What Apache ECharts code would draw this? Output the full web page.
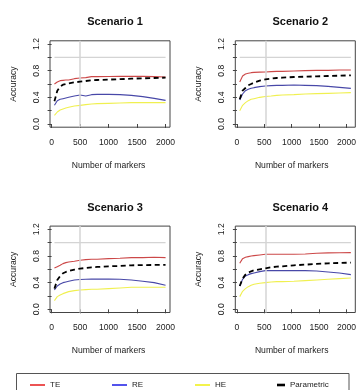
<!DOCTYPE html>
<html>
<head>
<meta charset="utf-8">
<script src="https://cdn.jsdelivr.net/npm/echarts@6/dist/echarts.min.js"></script>
<style>html,body{margin:0;padding:0;background:#fff}#c{width:359px;height:390px}#err{position:absolute;top:0;left:0;font:9px monospace;color:#c00;white-space:pre-wrap;width:359px}</style>
</head>
<body>
<div id="c"></div>
<div id="err"></div>
<script>
// ---- data ----
var markers = [50,100,150,200,250,300,400,500,600,700,800,1000,1200,1400,1600,1800,2000];
var titles = ['Scenario 1','Scenario 2','Scenario 3','Scenario 4'];
var seriesNames = ['TE','RE','HE','Parametric'];
var xTickStep = 500;
var yTickStep = 0.2;

var TE1 = [0.60,0.63,0.65,0.655,0.66,0.66,0.68,0.69,0.695,0.71,0.71,0.712,0.715,0.715,0.715,0.71,0.705];
var RE1 = [0.28,0.35,0.37,0.38,0.39,0.40,0.42,0.435,0.42,0.44,0.445,0.445,0.44,0.43,0.41,0.385,0.355];
var HE1 = [0.13,0.18,0.21,0.225,0.24,0.25,0.27,0.28,0.29,0.30,0.305,0.31,0.315,0.32,0.32,0.32,0.32];
var PA1 = [0.34,0.50,0.56,0.59,0.60,0.61,0.625,0.635,0.645,0.655,0.66,0.666,0.672,0.68,0.685,0.69,0.695];

var TE2 = [0.63,0.72,0.75,0.76,0.77,0.775,0.778,0.78,0.785,0.79,0.79,0.795,0.80,0.805,0.805,0.81,0.81];
var RE2 = [0.36,0.45,0.50,0.52,0.535,0.545,0.56,0.57,0.575,0.58,0.58,0.585,0.58,0.575,0.565,0.55,0.535];
var HE2 = [0.20,0.28,0.32,0.35,0.37,0.38,0.40,0.413,0.42,0.43,0.435,0.44,0.45,0.455,0.46,0.465,0.47];
var PA2 = [0.37,0.50,0.54,0.58,0.60,0.62,0.65,0.67,0.68,0.69,0.695,0.705,0.71,0.715,0.72,0.725,0.73];

var TE3 = [0.62,0.64,0.66,0.685,0.70,0.71,0.72,0.735,0.745,0.75,0.75,0.76,0.765,0.775,0.775,0.78,0.775];
var RE3 = [0.29,0.35,0.38,0.40,0.41,0.42,0.44,0.448,0.45,0.452,0.453,0.455,0.45,0.44,0.42,0.40,0.36];
var HE3 = [0.13,0.19,0.215,0.235,0.25,0.265,0.28,0.29,0.295,0.30,0.30,0.31,0.32,0.33,0.33,0.33,0.33];
var PA3 = [0.31,0.44,0.50,0.54,0.56,0.575,0.595,0.61,0.62,0.63,0.635,0.645,0.65,0.66,0.663,0.665,0.667];

var TE4 = [0.69,0.76,0.78,0.79,0.80,0.805,0.815,0.825,0.826,0.826,0.826,0.826,0.83,0.84,0.846,0.848,0.85];
var RE4 = [0.35,0.45,0.50,0.52,0.535,0.545,0.565,0.58,0.58,0.58,0.58,0.58,0.58,0.575,0.56,0.545,0.52];
var HE4 = [0.19,0.27,0.31,0.34,0.36,0.375,0.39,0.40,0.41,0.415,0.415,0.42,0.43,0.44,0.45,0.46,0.47];
var PA4 = [0.35,0.46,0.52,0.55,0.57,0.585,0.60,0.615,0.63,0.64,0.645,0.66,0.67,0.68,0.69,0.695,0.70];

var refLineX = [50,2000];
var refLineY = [1,1];
var refMarker = 500;

var panels = [[TE1,RE1,HE1,PA1],[TE2,RE2,HE2,PA2],[TE3,RE3,HE3,PA3],[TE4,RE4,HE4,PA4]];

(function(){
try {
var FONT = '"Liberation Sans", Arial, sans-serif';
var TXT = '#222';
var lineColors = ['#cc4848','#4848a8','#f0f050','#000000'];
var legendColors = ['#e82828','#2828e8','#f0f020','#000000'];

function pair(xs, ys){ return xs.map(function(x,i){ return [x, ys[i]]; }); }

var BX0=-28, BX1=2078, BY0=-0.048, BY1=1.248;
var BW=120, BH=86.4;
var grids=[], xAxes=[], yAxes=[], series=[], titleArr=[];
for (var p=0;p<4;p++){
  var col = p%2, row = Math.floor(p/2);
  var gl = 50 + 185.3*col, gt = 40.8 + 185.3*row;
  grids.push({left:gl, top:gt, width:BW, height:BH, show:true, borderColor:'#444', borderWidth:1, backgroundColor:'transparent'});
  xAxes.push({type:'value', gridIndex:2*p, min:BX0, max:BX1, show:false});
  yAxes.push({type:'value', gridIndex:2*p, min:BY0, max:BY1, show:false});
  var il = gl + BW*(0-BX0)/(BX1-BX0);
  var iw = BW*2000/(BX1-BX0);
  var it = gt + BH*(BY1-1.2)/(BY1-BY0);
  var ih = BH*1.2/(BY1-BY0);
  var offX = (gt+BH) - (it+ih);
  var offY = il - gl;
  grids.push({left:il, top:it, width:iw, height:ih, show:false});
  xAxes.push({type:'value', gridIndex:2*p+1, min:0, max:2000, interval:xTickStep, offset:offX,
    axisLine:{show:false}, splitLine:{show:false},
    axisTick:{show:true, length:4, inside:false, lineStyle:{color:'#444'}},
    axisLabel:{fontSize:8.6, color:TXT, fontFamily:FONT, margin:11, showMinLabel:true, showMaxLabel:true,
      formatter:function(v){ return String(Math.round(v)); }},
    name:'Number of markers', nameLocation:'middle', nameGap:34,
    nameTextStyle:{fontSize:8.6, color:TXT, fontFamily:FONT}});
  yAxes.push({type:'value', gridIndex:2*p+1, min:0, max:1.2, interval:yTickStep, offset:offY,
    axisLine:{show:false}, splitLine:{show:false},
    axisTick:{show:true, length:4, lineStyle:{color:'#444'}},
    axisLabel:{rotate:90, fontSize:8.6, color:TXT, fontFamily:FONT, margin:9, showMinLabel:true, showMaxLabel:true,
      formatter:function(v){ var k=Math.round(v*10); return (k%4===0)? (k/10).toFixed(1) : ''; }},
    name:'Accuracy', nameLocation:'middle', nameGap:32,
    nameTextStyle:{fontSize:8.6, color:TXT, fontFamily:FONT}});
  titleArr.push({text:titles[p], left:gl+60, top:gt-29, textAlign:'center',
    textStyle:{fontSize:11, fontWeight:'bold', color:'#111', fontFamily:FONT}});
  var xi = 2*p, yi = 2*p;
  series.push({type:'line', xAxisIndex:xi, yAxisIndex:yi, data:pair(refLineX, refLineY),
    showSymbol:false, silent:true, lineStyle:{color:'#d4d4d4', width:1.3}, z:1,
    markLine:{silent:true, symbol:'none', label:{show:false}, lineStyle:{color:'#d4d4d4', width:1.5, type:'solid'},
      data:[{xAxis:refMarker}]}});
  for (var s=0;s<4;s++){
    var isPar = s===3;
    series.push({type:'line', name:seriesNames[s], xAxisIndex:xi, yAxisIndex:yi,
      data:pair(markers, panels[p][s]), showSymbol:false,
      itemStyle:{color:lineColors[s]},
      lineStyle:{color:lineColors[s], width:isPar?1.8:1.1, type:isPar?[5,3.5]:'solid'},
      z: isPar?5:3});
  }
}

var legendPos = [25,107,190,272];
var legends = seriesNames.map(function(n,i){
  var isPar = i===3;
  return {left:legendPos[i], top:376, orient:'horizontal', selectedMode:false,
    itemWidth:isPar?8:15, itemHeight:isPar?2.6:1.6,
    data:[{name:n, icon:'rect', itemStyle:{color:legendColors[i]}}],
    textStyle:{fontSize:8, color:TXT, fontFamily:FONT}};
});

var chart = echarts.init(document.getElementById('c'), null, {renderer:'canvas'});
chart.setOption({
  animation:false,
  backgroundColor:'#fff',
  title:titleArr,
  grid:grids, xAxis:xAxes, yAxis:yAxes, series:series,
  legend:legends,
  graphic:[{type:'rect', shape:{x:16.5, y:373.5, width:332.5, height:30}, style:{fill:'none', stroke:'#555', lineWidth:1}, silent:true}]
});
} catch(e) { document.getElementById('err').textContent = String(e && e.stack || e).slice(0,1500); }
})();
</script>
</body>
</html>
